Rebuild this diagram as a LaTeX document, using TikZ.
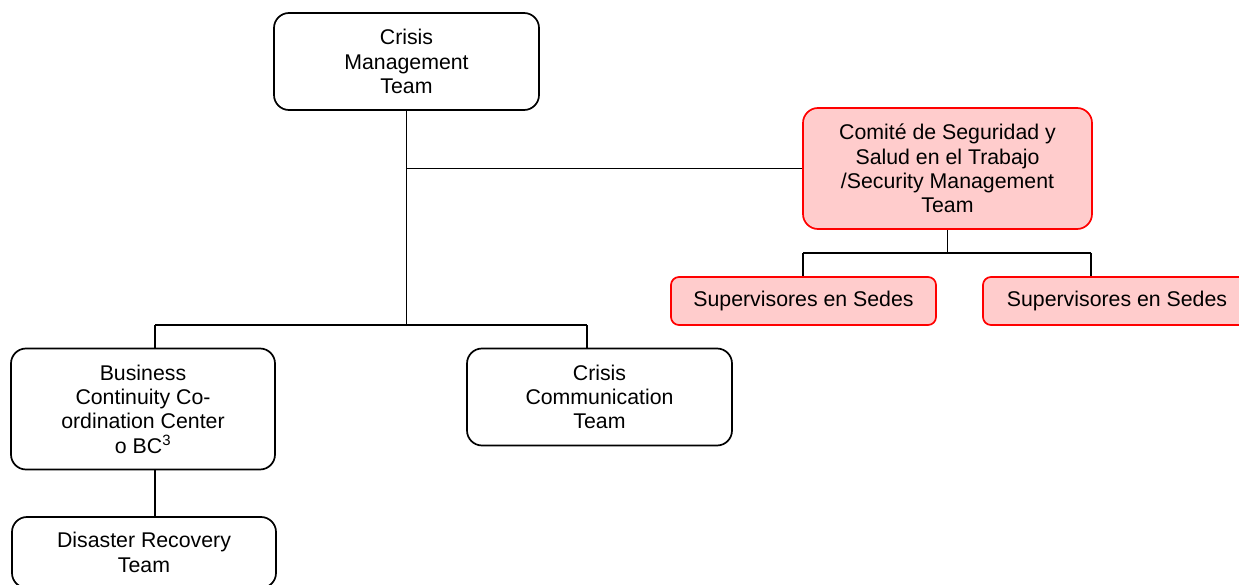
\documentclass[tikz,border=0pt]{standalone}
\usepackage{fontspec}
\setmainfont{Liberation Sans}
\usepackage{tikz}
\definecolor{sstfill}{HTML}{FFCCCC}
\definecolor{sstline}{HTML}{FF0000}

\begin{document}
\begin{tikzpicture}[x=1pt,y=-1pt,
		box/.style={draw=black, line width=1.7pt, rounded corners=15pt, align=center, inner sep=0pt,
			font=\fontsize{21.3}{24.3}\selectfont},
		redbox/.style={box, draw=sstline, fill=sstfill},
		link/.style={black, line width=1.7pt}]
				\useasboundingbox (0,0) rectangle (1239,585);
				% boxes
				\node[box, minimum width=265pt, minimum height=97pt] (cmt) at (406.5,61.5) {Crisis\\Management\\Team};
				\node[redbox, minimum width=289pt, minimum height=121pt] (sst) at (947.5,168.5) {Comit\'e de Seguridad y\\Salud en el Trabajo\\/Security Management\\Team};
				\node[redbox, rounded corners=8pt, minimum width=265pt, minimum height=48pt] (supa) at (803.5,301) {Supervisores en Sedes};
				\node[redbox, rounded corners=8pt, minimum width=268pt, minimum height=48pt] (supb) at (1117,301) {Supervisores en Sedes};
				\node[box, minimum width=264pt, minimum height=121pt] (bccc) at (143,409) {Business\\Continuity Co-\\ordination Center\\o BC\textsuperscript{3}};
				\node[box, minimum width=265pt, minimum height=97pt] (cct) at (599.5,397) {Crisis\\Communication\\Team};
				\node[box, minimum width=264pt, minimum height=71pt] (drt) at (144,552.5) {Disaster Recovery\\Team};
				% connectors
				\coordinate (bl) at (155,325);
				\coordinate (br) at (587,325);
				\coordinate (sl) at (803,253);
				\coordinate (sr) at (1091,253);
				\draw[link] (cmt.south) -- (cmt.south |- bl);
				\draw[link] (cmt.south |- sst.west) -- (sst.west);
				\draw[link] (bl) -- (br);
				\draw[link] (bl) -- (bl |- bccc.north);
				\draw[link] (br) -- (br |- cct.north);
				\draw[link] (bl |- bccc.south) -- (bl |- drt.north);
				\draw[link] (sst.south) -- (sst.south |- sl);
				\draw[link] (sl) -- (sr);
				\draw[link] (sl) -- (sl |- supa.north);
				\draw[link] (sr) -- (sr |- supb.north);
			\end{tikzpicture}
\end{document}
